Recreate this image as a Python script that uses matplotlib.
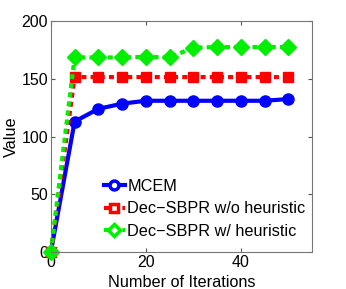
import numpy as np
import matplotlib
matplotlib.use("Agg")
import matplotlib.pyplot as plt

plt.rcParams['font.family'] = ['Liberation Sans', 'DejaVu Sans']

iters = [0, 5, 10, 15, 20, 25, 30, 35, 40, 45, 50]
mcem = [0, 113, 124, 128.5, 131, 131, 131, 131, 131, 131, 132.5]
no_heur = [0, 151.5, 151.5, 151.5, 151.5, 151.5, 151.5, 151.5, 151.5, 151.5, 151.5]
w_heur = [0, 168.5, 168.5, 168.5, 169, 168.5, 177, 177.5, 177.5, 177.5, 177.5]

fig = plt.figure(figsize=(3.46, 2.89), dpi=100)
ax = fig.add_axes([0.147, 0.128, 0.755, 0.799])

ax.plot(iters, mcem, '-', color='#0000ff', lw=3, marker='o', ms=8,
        mfc='#0000ff', mec='#0000ff', mew=1, label='MCEM', clip_on=False)
ax.plot(iters, no_heur, color='#ff0000', lw=3, dashes=(1.2, 1.0),
        dash_capstyle='butt', marker='s', ms=7.5, mfc='#ff0000', mec='#ff0000',
        mew=1, label='Dec\u2212SBPR w/o heuristic', clip_on=False)
ax.plot(iters, w_heur, color='#00ee00', lw=3, dashes=(1.2, 1.0),
        dash_capstyle='butt', marker='D', ms=8, mfc='#00ee00', mec='#00ee00',
        mew=1, label='Dec\u2212SBPR w/ heuristic', clip_on=False)

ax.set_xlim(0, 55)
ax.set_ylim(0, 200)
ax.set_xticks([0, 20, 40])
ax.set_yticks([0, 50, 100, 150, 200])
ax.tick_params(direction='in', top=True, right=True, labelsize=11.5, length=3,
               color='#555555', pad=2)
for sp in ax.spines.values():
    sp.set_color('#777777')
ax.set_xlabel('Number of Iterations', fontsize=11.7, labelpad=4)
ax.set_ylabel('Value', fontsize=11.7, labelpad=2)

leg = ax.legend(loc='lower right', frameon=False, fontsize=11.7,
                handlelength=1.3, handletextpad=0.15, labelspacing=0.45,
                borderaxespad=0.0, bbox_to_anchor=(1.0, 0.03),
                markerscale=0.8)
for h in leg.legend_handles:
    h.set_markerfacecolor('white')
    h.set_markeredgewidth(2.5)

fig.savefig('out.png', dpi=100)
